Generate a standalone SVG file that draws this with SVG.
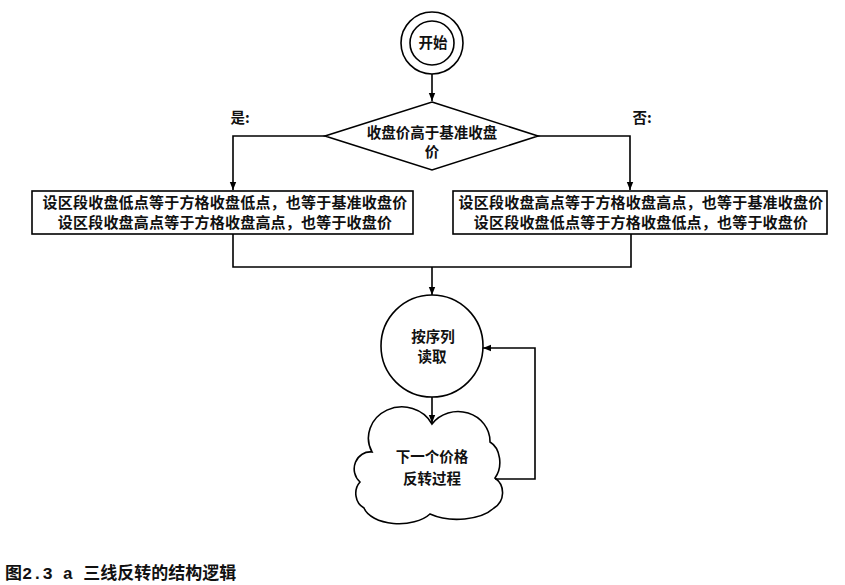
<svg xmlns="http://www.w3.org/2000/svg" width="845" height="585" viewBox="0 0 845 585">
<defs>
<style>
.s{fill:none;stroke:#000;stroke-width:1.6}
.n{fill:#fff;stroke:#000;stroke-width:1.6}
.t{font-family:"Noto Sans CJK SC","Noto Sans CJK JP",sans-serif;font-weight:bold;font-size:14.5px;fill:#111;text-anchor:middle}
.b{font-size:15px;letter-spacing:0.2px}
</style>
<marker id="a" viewBox="0 0 10 10" refX="10" refY="5" markerWidth="8" markerHeight="8" markerUnits="userSpaceOnUse" orient="auto"><path d="M0,1 L10,5 L0,9 Z" fill="#000"/></marker>
</defs>
<rect width="845" height="585" fill="#fff"/>
<g id="start">
<circle class="n" cx="432" cy="43" r="31"/>
<circle class="s" cx="432" cy="43" r="22"/>
<text class="t" x="433" y="48">开始</text>
</g>
<g id="decision">
<polygon class="n" points="432,102 538,136 432,170 325,136"/>
<text class="t" x="432" y="138">收盘价高于基准收盘</text>
<text class="t" x="432" y="157">价</text>
</g>
<text class="t" x="240" y="123">是:</text>
<text class="t" x="642" y="123">否:</text>
<g id="box-left">
<rect class="n" x="32" y="191" width="381" height="43"/>
<text class="t b" x="225" y="208">设区段收盘低点等于方格收盘低点，也等于基准收盘价</text>
<text class="t b" x="225" y="228">设区段收盘高点等于方格收盘高点，也等于收盘价</text>
</g>
<g id="box-right">
<rect class="n" x="453" y="191" width="374" height="43"/>
<text class="t b" x="641" y="208">设区段收盘高点等于方格收盘高点，也等于基准收盘价</text>
<text class="t b" x="641" y="228">设区段收盘低点等于方格收盘低点，也等于收盘价</text>
</g>
<g id="read">
<circle class="n" cx="432" cy="346" r="51"/>
<text class="t" x="433" y="342">按序列</text>
<text class="t" x="432" y="362">读取</text>
</g>
<g id="cloud">
<path class="n" d="M372,452 A28 26 0 0 1 432,424 A32 30 0 0 1 490,442 A16 22 0 0 1 495,478 A18 18 0 0 1 494,508 A42 22 0 0 1 430,514 A36 20 0 0 1 364,508 A14 16 0 0 1 360,482 A16 17 0 0 1 372,452 Z"/>
<text class="t" x="432" y="462">下一个价格</text>
<text class="t" x="432" y="484">反转过程</text>
</g>
<g id="connectors">
<line class="s" x1="432" y1="74" x2="432" y2="101" marker-end="url(#a)"/>
<polyline class="s" points="325,136 233,136 233,190" marker-end="url(#a)"/>
<polyline class="s" points="538,136 630,136 630,190" marker-end="url(#a)"/>
<polyline class="s" points="233,234 233,267 631,267 631,234"/>
<line class="s" x1="432" y1="267" x2="432" y2="295" marker-end="url(#a)"/>
<line class="s" x1="432" y1="397" x2="432" y2="423" marker-end="url(#a)"/>
<polyline class="s" points="495,479 535,479 535,348 483,348" marker-end="url(#a)"/>
</g>
<text x="5" y="579" font-family="'Liberation Mono','Noto Sans CJK SC',monospace" font-weight="bold" font-size="17" fill="#111">图2.3 a 三线反转的结构逻辑</text>
</svg>
